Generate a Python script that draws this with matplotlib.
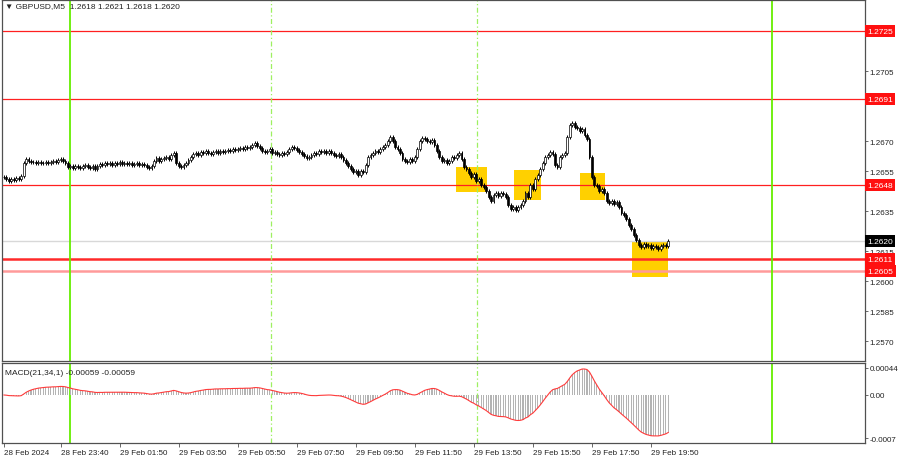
import matplotlib
matplotlib.use('Agg')
import matplotlib.pyplot as plt
import matplotlib.transforms as mtransforms
import numpy as np
import pandas as pd

plt.rcParams['font.family'] = ['Liberation Sans', 'DejaVu Sans']

# closing prices of the M5 bars, in pips above 1.2600
closes_pips = [
    52, 51, 50, 51, 50.5, 51.5, 51, 52.5, 59, 61,
    60, 59.5, 59.5, 59, 59.5, 59, 59, 59.5, 59, 59.5,
    60, 59.5, 60.5, 61, 60, 59, 57, 57.5, 56.5, 57.5,
    57, 56.5, 57.5, 58, 57, 56.5, 57.5, 56, 57.5, 58.5,
    58, 59, 58.5, 59, 58, 59, 58.5, 59.5, 58.5, 59,
    58.5, 59, 58, 58.5, 59, 58, 58.5, 58, 57, 56.5,
    57.5, 60, 61.5, 60, 61, 61.5, 62, 61, 63, 64,
    59, 57.5, 57, 58, 59, 60.5, 62, 63.5, 64, 63,
    64.5, 64, 65, 64, 63.5, 64.5, 65, 64, 65, 64.5,
    65, 65.5, 65, 66, 65.5, 66, 66.5, 66, 67, 66.5,
    67, 68, 69, 67.5, 66.5, 65, 64.5, 65, 66, 64,
    64.5, 63.5, 63, 64, 63.5, 64.5, 66, 67, 66.5, 65.5,
    64.5, 63.5, 62.5, 61.5, 62, 63, 64, 63.5, 65, 64.5,
    65, 64, 65, 64, 63, 62.5, 63.5, 62, 60.5, 59,
    57.5, 56, 54.5, 55, 53, 55, 54.5, 58, 62, 63,
    64, 65, 64.5, 66, 67, 68, 70, 72, 70, 67,
    66, 64, 61, 60, 59.5, 61, 60, 62, 66, 70,
    71.5, 71, 70, 69.5, 70.5, 68, 65, 62, 60, 60.5,
    59, 60, 62, 61.5, 63, 64, 61, 57, 56, 54,
    52, 53.5, 50, 51, 48, 47, 45, 42, 40, 43,
    44, 42.5, 44, 43.5, 42, 38, 36, 37, 35.5, 37,
    38, 40, 44, 42, 48, 46, 51, 53, 56, 59,
    62, 63, 64.5, 63.5, 58, 57, 62, 63, 64, 72,
    78, 79, 77, 76.5, 75, 76, 73, 71, 62, 52,
    48, 47.5, 45, 46, 44, 40, 39, 40, 38.5, 39.5,
    37, 34, 33, 31, 28, 26, 23, 20.5, 18, 17,
    18.5, 17.5, 18, 16.5, 17.5, 17, 16, 17.5, 18, 17.5,
    20,
]

level_prices = [1.2725, 1.2691, 1.2648, 1.2611, 1.2605]
level_labels = ['1.2725', '1.2691', '1.2648', '1.2611', '1.2605']
current_price = 1.2620

# signal areas: first bar, last bar, low, high
signal_boxes = [
    (183.7, 196.3, 1.26445, 1.2657),
    (207.3, 218.3, 1.26405, 1.26555),
    (234.1, 244.3, 1.26405, 1.2654),
    (255.3, 269.9, 1.2602, 1.26195),
]

time_ticks = [0, 23, 47, 71, 95, 119, 143, 167, 191, 215, 239, 263]
time_labels = ['28 Feb 2024', '28 Feb 23:40', '29 Feb 01:50', '29 Feb 03:50',
               '29 Feb 05:50', '29 Feb 07:50', '29 Feb 09:50', '29 Feb 11:50',
               '29 Feb 13:50', '29 Feb 15:50', '29 Feb 17:50', '29 Feb 19:50']

day_lines = [26.8, 312.2]
session_lines = [108.5, 192.3]

price_ticks = [1.2705, 1.2670, 1.2655, 1.2635, 1.2615, 1.2600, 1.2585, 1.2570]

# bars
close = 1.2600 + np.array(closes_pips) / 10000
open_ = np.r_[close[0], close[:-1]]
high = np.maximum(open_, close) + 0.00008
low = np.minimum(open_, close) - 0.00008
idx = np.arange(len(close))

# MACD(21,34,1)
cs = pd.Series(close)
macd = (cs.ewm(span=21, adjust=False).mean() - cs.ewm(span=34, adjust=False).mean()).values
signal = pd.Series(macd).rolling(1).mean().values

fig = plt.figure(figsize=(9, 4.6), dpi=100)
ax = fig.add_axes([0.0022, 0.2130, 0.9589, 0.7848])
axm = fig.add_axes([0.0022, 0.0348, 0.9589, 0.1739])

frame = '#505050'
fs = 5.8

for a in (ax, axm):
    for s in a.spines.values():
        s.set_color(frame)
        s.set_linewidth(0.9)
    a.set_xlim(-0.8, 350)
    a.yaxis.tick_right()
    a.tick_params(axis='y', length=2, width=0.6, colors=frame, labelsize=fs,
                  labelcolor='#222222', pad=1.5)

# signal boxes
for x0, x1, lo, hi in signal_boxes:
    ax.add_patch(plt.Rectangle((x0, lo), x1 - x0, hi - lo, facecolor='#ffd000',
                               edgecolor='none', zorder=1))

# price levels
ax.axhline(current_price, color='#d8d8d8', lw=1, zorder=1.5)
level_styles = [('#ff2020', 0.9), ('#ff2020', 0.9), ('#ff2020', 0.9),
                ('#ff2a2a', 1.8), ('#ff9a9a', 1.8)]
for p, (c, w) in zip(level_prices, level_styles):
    ax.axhline(p, color=c, lw=w, zorder=2)

# vertical separators
for a in (ax, axm):
    for x in day_lines:
        a.axvline(x, color='#66ee00', lw=1.3, zorder=2)
    for x in session_lines:
        a.axvline(x, color='#9ef060', lw=0.9, ls=(0, (4, 2, 1, 2)), zorder=2)

# candles
up = close >= open_
body_lo = np.minimum(open_, close)
body_h = np.maximum(np.abs(close - open_), 0.00002)
ax.vlines(idx, low, high, color='black', lw=0.7, zorder=3)
ax.bar(idx[up], body_h[up], bottom=body_lo[up], width=0.75, color='white',
       edgecolor='black', linewidth=0.5, zorder=4)
ax.bar(idx[~up], body_h[~up], bottom=body_lo[~up], width=0.75, color='black',
       edgecolor='black', linewidth=0.5, zorder=4)

ax.set_ylim(1.2560, 1.27405)
ax.set_yticks(price_ticks)
ax.set_yticklabels([f'{p:.4f}' for p in price_ticks])
ax.set_xticks([])

# right-side level labels
trans = mtransforms.blended_transform_factory(ax.transAxes, ax.transData)
for p, lab in zip(level_prices, level_labels):
    ax.text(1.003, p, lab, transform=trans, ha='left', va='center', fontsize=6,
            color='white', clip_on=False,
            bbox=dict(boxstyle='square,pad=0.25', fc='#ff1010', ec='none'))
ax.text(1.003, current_price, '1.2620', transform=trans, ha='left', va='center',
        fontsize=6, color='white', clip_on=False,
        bbox=dict(boxstyle='square,pad=0.25', fc='black', ec='none'))

ax.text(0.004, 0.993, '\u25bc GBPUSD,M5  1.2618 1.2621 1.2618 1.2620',
        transform=ax.transAxes, ha='left', va='top', fontsize=6, color='#222222')

# MACD panel
axm.bar(idx, macd, width=0.45, color='#b4b4b4', zorder=3)
axm.plot(idx, signal, color='#ff3b3b', lw=0.8, zorder=4)
axm.set_ylim(-0.00078, 0.00052)
axm.set_yticks([0.00044, 0.0, -0.0007])
axm.set_yticklabels(['0.00044', '0.00', '-0.0007'])
axm.set_xticks(time_ticks)
axm.set_xticklabels(time_labels, ha='left')
axm.tick_params(axis='x', length=3, width=0.6, colors=frame, labelsize=fs,
                labelcolor='#222222', pad=1.5)
axm.text(0.004, 0.93, 'MACD(21,34,1) -0.00059 -0.00059', transform=axm.transAxes,
         ha='left', va='top', fontsize=6, color='#222222')

fig.savefig('out.png', dpi=100)
